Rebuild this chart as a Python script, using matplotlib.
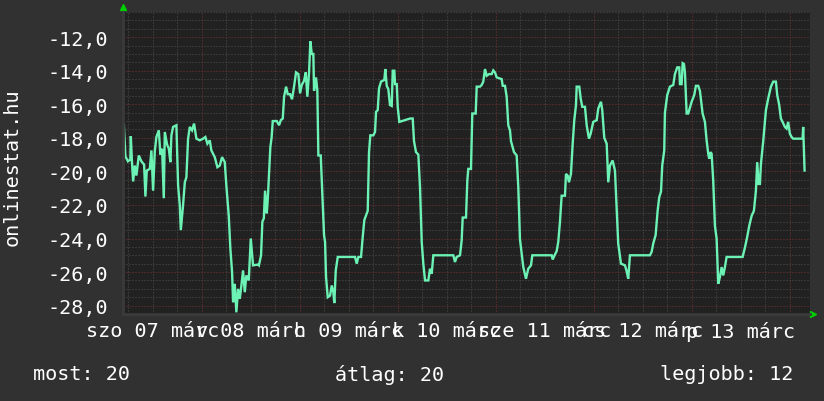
import matplotlib
matplotlib.use('Agg')
import matplotlib.pyplot as plt
from matplotlib.ticker import MultipleLocator, FuncFormatter

# %% adatok: orak marc. 07 00:00 ota, homerseklet
hours = [4.9, 5.29, 5.9, 6.5, 6.61, 6.9, 7.18, 7.59, 7.98, 8.57, 9.21, 9.87, 10.19,
         10.53, 11.27, 11.66, 12.07, 12.49, 12.88, 13.47, 13.86, 14.28, 14.69, 14.94,
         15.5, 15.92, 16.31, 16.56, 16.97, 17.78, 18.2, 18.61, 18.86, 19.42, 19.84,
         20.23, 20.64, 21.06, 21.62, 22.11, 22.68, 23.51, 24.32, 24.88, 25.37, 25.96,
         26.35, 27.18, 27.82, 28.41, 28.97, 29.63, 30.02, 30.61, 31.0, 31.42, 31.67,
         32.08, 32.47, 32.89, 33.31, 33.7, 34.11, 34.53, 34.92, 35.51, 36.0, 36.56,
         37.79,
         38.0, 38.52, 38.84, 39.2, 39.5, 39.92, 40.16, 40.48, 40.8, 41.1, 41.39, 42.37,
         42.93, 43.35, 43.84, 44.16, 44.65, 45.06, 45.63, 46.11, 46.6, 47.09, 47.66,
         48.07, 48.49, 49.05, 49.47, 49.86, 50.28, 50.6, 50.94, 51.33, 51.5, 51.99,
         52.31, 52.56, 53.14, 53.54, 53.95, 54.2, 54.44, 54.86, 55.42, 55.84, 56.23,
         56.47, 56.82, 57.31, 61.54, 61.96, 62.35, 63.01, 63.43, 63.82, 64.41, 64.65,
         64.97, 65.29, 66.03, 66.44, 66.69, 67.1, 67.42, 67.91, 68.72, 68.96, 69.31,
         69.7, 70.11, 70.53, 70.78,
         71.17, 71.34, 71.76, 72.0, 72.39, 75.01, 75.67, 75.99, 76.48, 77.05, 77.46,
         77.88, 78.27, 78.69, 79.5, 79.91, 80.33, 80.72, 85.62, 86.03, 86.45, 87.26,
         87.67, 87.92, 88.73, 89.05, 89.29, 89.95, 90.27, 91.1, 91.35, 92.16, 92.57,
         92.96, 93.38, 93.8, 94.36, 95.02, 95.41, 95.83, 96.25, 97.47, 97.72, 98.28,
         98.69, 99.09, 99.5, 99.75, 100.48, 101.14, 101.54, 101.95, 102.37, 102.76,
         103.42, 103.98,
         104.65, 104.97, 109.72, 109.96, 110.53, 110.94, 111.33, 111.75, 112.16,
         112.97, 113.22, 113.63, 113.95, 114.44, 114.86, 115.25, 115.67, 115.84,
         116.48, 116.82, 117.21, 117.87, 118.29, 118.85, 119.27, 119.9, 120.74,
         121.13, 121.79, 122.11, 122.6, 123.19, 123.58, 123.99, 124.65, 125.22,
         125.63, 126.02, 126.69, 127.67, 128.08, 128.47, 128.89, 133.79, 134.2,
         134.6, 135.18, 135.67, 136.06, 136.5, 136.8, 137.29, 137.46,
         138.03, 138.69, 139.5, 139.91, 140.48, 140.97, 141.14, 141.55, 141.8,
         142.12, 142.36, 142.78, 143.17, 144.0, 144.64, 145.05, 145.62, 146.03,
         146.69, 147.26, 147.67, 148.07, 148.31, 148.65, 148.9, 149.29, 149.71,
         150.12, 150.52, 150.93, 151.35, 151.74, 152.16, 152.57, 156.49, 157.05,
         157.62, 158.11, 158.7, 159.26, 159.75, 160.07, 160.41, 160.73, 160.98,
         161.54, 162.2, 162.77, 163.43, 163.99, 164.65, 164.97, 165.46, 165.87,
         166.28, 166.85, 167.26, 167.65, 168.07, 168.48, 168.87, 171.18, 171.33,
         171.67]
temps = [-17.2, -19.1, -19.4, -19.3, -17.9, -19.45, -20.6, -19.65, -20.25, -19.05,
         -19.4, -19.6, -21.5, -19.95, -19.85, -18.75, -21.15, -18.8, -17.95, -17.55,
         -19.0, -18.65, -21.6, -17.65, -18.4, -18.65, -19.45, -17.85, -17.35, -17.25,
         -20.85, -22.0, -23.5, -22.0, -20.65, -20.35, -18.05, -17.35, -17.55, -17.15,
         -18.05, -18.15, -18.05, -17.95, -18.35, -18.15, -18.75, -19.15, -19.75,
         -19.65, -19.15, -19.45, -20.85, -22.65, -24.6, -26.0, -27.8, -26.7, -28.4,
         -27.0, -27.6, -26.8, -25.9, -27.2, -26.2, -26.5, -24.0, -25.6, -25.55,
         -25.6, -25.0, -23.0, -22.8, -21.15, -22.5, -21.7, -20.15, -18.55, -18.0,
         -17.0, -17.0, -17.25, -16.95, -16.85, -15.55, -14.95, -15.4, -15.4, -15.7,
         -14.95, -14.1, -14.2, -15.35, -14.85, -14.6, -14.1, -15.55, -14.1, -12.25,
         -13.0, -13.0, -15.2, -14.4, -15.2, -19.05, -19.05, -21.35, -23.8, -24.2,
         -26.3, -27.5, -27.4, -26.8, -27.2, -27.85, -25.9, -25.1, -25.1, -25.5,
         -25.1, -25.1, -23.9, -22.9, -22.5, -22.35, -18.85, -17.85, -17.85, -17.65,
         -16.45, -16.35, -15.05, -14.65, -14.55, -13.9, -14.9, -15.1, -16.05, -16.1,
         -14.0,
         -14.0, -14.8, -14.8, -16.15, -17.05, -16.85, -16.85, -18.2, -18.85, -19.0,
         -20.95, -24.2, -25.5, -26.5, -26.5, -25.8, -26.1, -25.0, -25.0, -25.4,
         -25.1, -25.0, -24.1, -22.75, -22.75, -20.55, -19.85, -19.85, -16.55, -16.55,
         -14.95, -14.95, -14.85, -14.65, -13.9, -14.3, -14.2, -14.2, -13.98, -14.1,
         -14.4, -14.5, -14.9, -14.9, -15.55, -17.25, -17.55, -18.2, -18.85, -19.05,
         -20.95, -24.05, -24.9, -25.7, -26.4, -25.8,
         -25.6, -25.0, -25.0, -25.25, -24.95, -24.75, -24.2, -23.0, -21.45, -21.45,
         -20.15, -20.25, -20.65, -20.15, -18.35, -16.95, -16.05, -14.95, -14.95,
         -15.65, -16.15, -16.15, -17.25, -18.05, -17.75, -17.05, -16.95, -16.25,
         -15.85, -16.35, -18.0, -18.35, -20.65, -19.65, -19.35, -19.95, -22.25,
         -24.3, -25.5, -25.6, -25.95, -26.4, -25.0, -25.0, -24.8, -24.3, -23.8,
         -22.35, -21.55, -21.2, -19.65, -18.75, -16.5,
         -15.45, -14.95, -14.85, -14.2, -13.8, -13.8, -14.8, -14.8, -13.55, -13.6,
         -14.1, -16.55, -16.55, -15.85, -15.45, -14.9, -14.9, -15.2, -16.55, -17.05,
         -18.15, -18.95, -19.25, -18.85, -18.95, -20.55, -23.25, -24.0, -26.7,
         -26.3, -25.7, -26.2, -25.7, -25.1, -25.1, -24.55, -23.9, -23.25, -22.65,
         -22.35, -21.15, -19.45, -20.75, -20.75, -19.55, -18.2, -16.35, -15.65,
         -14.95, -14.65, -14.65, -15.45, -16.05, -16.85, -17.05, -17.35, -17.45,
         -17.05, -17.75, -17.95, -18.05, -18.05, -17.35, -19.95]

nap_cimkek = ['szo 07 márc', 'v 08 márc', 'h 09 márc', 'k 10 márc',
              'sze 11 márc', 'cs 12 márc', 'p 13 márc']
osszesites = ['most: 20', 'átlag: 20', 'legjobb: 12']
felirat = 'onlinestat.hu'

# %%
plt.rcParams['font.family'] = ['DejaVu Sans Mono']
fs = 14.5
fig = plt.figure(figsize=(8.24, 4.02), dpi=100, facecolor='#313131')
ax = fig.add_axes([123/824, 1 - 315/402, 687/824, 302/402], facecolor='#212121')

ax.xaxis.set_major_locator(MultipleLocator(24))
ax.xaxis.set_minor_locator(MultipleLocator(6))
ax.yaxis.set_major_locator(MultipleLocator(2))
ax.yaxis.set_minor_locator(MultipleLocator(0.5))
ax.grid(which='minor', color='#505050', linestyle=(0, (1, 2)), linewidth=0.72)
ax.grid(which='major', color='#7a3434', linestyle=(0, (1, 2)), linewidth=0.72)
ax.set_axisbelow(True)

ax.plot(hours, temps, color='#6cf2b4', linewidth=1.7, solid_joinstyle='miter')

ax.set_xlim(4.7, 173.0)
ax.set_ylim(-28.5, -10.5)
ax.yaxis.set_major_formatter(FuncFormatter(lambda v, p: '{:.1f}'.format(v).replace('.', ',')))
ax.set_xticklabels([])
ax.tick_params(which='both', length=0)
ax.tick_params(axis='y', labelsize=fs, labelcolor='white', pad=11)
for s in ['top', 'right']:
    ax.spines[s].set_visible(False)
for s in ['left', 'bottom']:
    ax.spines[s].set_color('#3a3a3a')
    ax.spines[s].set_linewidth(2)

for i, lbl in enumerate(nap_cimkek):
    ax.annotate(lbl, xy=(12 + 24*i, 0), xycoords=('data', 'axes fraction'),
                xytext=(0, -7), textcoords='offset pixels', ha='center', va='top',
                fontsize=fs, color='white', annotation_clip=False)

# zold nyilak
ax.plot([0], [1.017], marker='^', color='#00d000', markersize=5,
        transform=ax.transAxes, clip_on=False)
ax.plot([1.005], [0], marker='>', color='#00d000', markersize=5,
        transform=ax.transAxes, clip_on=False)

fig.text(12/824, 1 - 167/402, felirat, rotation=90, ha='center', va='center',
         fontsize=fs, color='white')
fig.text(33/824, 1 - 375/402, osszesites[0], ha='left', va='center', fontsize=fs, color='white')
fig.text(335/824, 1 - 375/402, osszesites[1], ha='left', va='center', fontsize=fs, color='white')
fig.text(793/824, 1 - 375/402, osszesites[2], ha='right', va='center', fontsize=fs, color='white')

fig.savefig('out.png', dpi=100, facecolor=fig.get_facecolor())
